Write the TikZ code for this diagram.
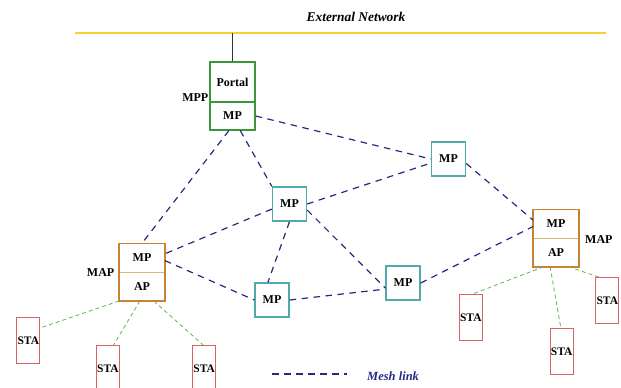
\documentclass[tikz,border=0pt]{standalone}
\usepackage{fontspec}
\setmainfont{Liberation Serif}
\usetikzlibrary{calc}
\definecolor{portalgreen}{RGB}{60,150,60}
\definecolor{mpteal}{RGB}{80,170,170}
\definecolor{maporange}{RGB}{200,130,50}
\definecolor{mapdiv}{RGB}{225,180,125}
\definecolor{stared}{RGB}{215,100,100}
\definecolor{meshnavy}{RGB}{40,40,130}
\definecolor{stagreen}{RGB}{100,180,80}
\definecolor{netyellow}{RGB}{245,210,50}
\begin{document}
\begin{tikzpicture}[x=1pt,y=-1pt,
  every node/.style={font=\fontsize{12}{14}\selectfont\bfseries, inner sep=0pt},
  portalbox/.style={draw=portalgreen, line width=1.4pt, minimum width=45pt},
  mpbox/.style={draw=mpteal, line width=1.4pt, minimum width=34pt, minimum height=34pt},
  mappart/.style={minimum width=45.5pt, minimum height=28.6pt},
  mapframe/.style={draw=maporange, line width=1.4pt},
  stabox/.style={draw=stared, line width=1pt, minimum width=23pt, minimum height=46pt,
     font=\fontsize{11.5}{13}\selectfont\bfseries},
  mesh/.style={draw=meshnavy, line width=1.2pt, dash pattern=on 6.5pt off 5.5pt},
  stalink/.style={draw=stagreen, line width=0.8pt, dash pattern=on 4pt off 3pt},
  sidelabel/.style={font=\fontsize{12}{14}\selectfont\bfseries}]
\useasboundingbox (0,0) rectangle (621,388);

% external network
\node (ext) at (356,17) {\fontsize{13.4}{15}\selectfont\bfseries\itshape External Network};
\coordinate (extL) at (75,33);
\coordinate (extR) at (606,33);
\draw[netyellow, line width=2.2pt] (extL) -- (extR);

% portal
\node[portalbox, minimum height=40pt] (portal) at (232.5,82) {Portal};
\node[portalbox, minimum height=28pt] (portalmp) at (232.5,116) {MP};
\coordinate (tap) at (232.5,33);
\draw[black!80, line width=0.9pt] (portal.north) -- (tap);
\node[sidelabel, anchor=east] (mpp) at (208.5,98) {MPP};

% mesh points
\node[mpbox] (mp1) at (289.5,204) {MP};
\node[mpbox] (mp2) at (448.5,159) {MP};
\node[mpbox] (mp3) at (272,300) {MP};
\node[mpbox] (mp4) at (403,283) {MP};

% left MAP
\node[mappart] (maplmp) at (142,257.8) {MP};
\node[mappart] (maplap) at (142,286.5) {AP};
\draw[mapdiv, line width=1pt] (maplmp.south west) -- (maplmp.south east);
\draw[mapframe] (maplmp.north west) rectangle (maplap.south east);
\node[sidelabel, anchor=east] (mapl) at (114.5,273) {MAP};

% right MAP
\node[mappart] (maprmp) at (556,223.7) {MP};
\node[mappart] (maprap) at (556,252.3) {AP};
\draw[mapdiv, line width=1pt] (maprmp.south west) -- (maprmp.south east);
\draw[mapframe] (maprmp.north west) rectangle (maprap.south east);
\node[sidelabel, anchor=west] (mapr) at (585,239.5) {MAP};

% stations
\node[stabox] (staA) at (28.3,340.3) {STA};
\node[stabox] (staB) at (108,368.7) {STA};
\node[stabox] (staC) at (204.2,368.7) {STA};
\node[stabox] (staD) at (470.8,317.3) {STA};
\node[stabox] (staE) at (561.7,351.7) {STA};
\node[stabox] (staF) at (607.3,300.5) {STA};

% mesh links
\draw[mesh] (portalmp.east) -- (mp2.west);
\draw[mesh] (portalmp.-104) -- (maplmp.north);
\draw[mesh] (portalmp.-62) -- (mp1.north west);
\draw[mesh] (mp1.east) -- (mp2.193);
\draw[mesh] (mp1.196) -- (maplmp.10);
\draw[mesh] (maplmp.-7) -- (mp3.west);
\draw[mesh] (mp1.south) -- (mp3.103);
\draw[mesh] (mp1.-19) -- (mp4.196);
\draw[mesh] (mp3.east) -- (mp4.199);
\draw[mesh] (mp4.east) -- (maprmp.187);
\draw[mesh] (mp2.-14) -- (maprmp.171);

% station links
\draw[stalink] (maplap.south west) -- (staA.46);
\draw[stalink] (maplap.-98) -- (staB.77);
\draw[stalink] (maplap.-51.5) -- (staC.92);
\draw[stalink] (maprap.-131) -- (staD.84);
\draw[stalink] (maprap.-112.6) -- (staE.92);
\draw[stalink] (maprap.-49.5) -- (staF.110.7);

% legend
\coordinate (legA) at (272,374);
\coordinate (legB) at (347,374);
\draw[mesh] (legA) -- (legB);
\node[anchor=west, text=meshnavy, font=\fontsize{12.5}{14}\selectfont\bfseries\itshape] (leg) at (367,376) {Mesh link};
\end{tikzpicture}
\end{document}
